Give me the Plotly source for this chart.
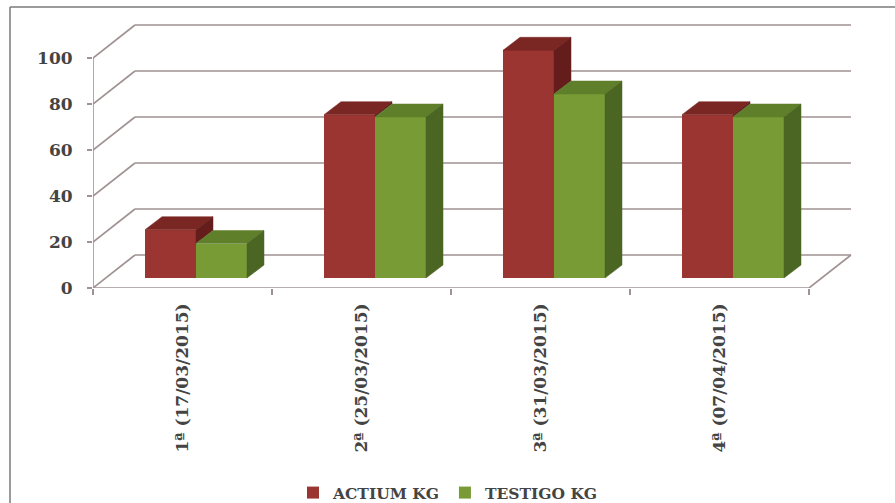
import plotly.graph_objects as go

# ---------------- data ----------------
categories = ["1ª (17/03/2015)", "2ª (25/03/2015)", "3ª (31/03/2015)", "4ª (07/04/2015)"]
actium_kg = [21, 71, 99, 71]
testigo_kg = [15, 70, 80, 70]
series_names = ["ACTIUM KG", "TESTIGO KG"]
y_ticks = [0, 20, 40, 60, 80, 100]

# ---------------- style / geometry ----------------
W, H = 895, 503
ML, MR, MT, MB = 93, 15, 10, 215
PLOT_W = W - ML - MR
PLOT_H = H - MT - MB
PX_Y = 2.3            # pixels per value unit
PX_X = 179.0          # pixels per category
Y_MAX = PLOT_H / PX_Y
X_MIN = -0.5
X_MAX = X_MIN + PLOT_W / PX_X

WALL_DX = 42 / PX_X   # depth of the 3D box (x units)
WALL_DY = 33 / PX_Y   # depth of the 3D box (y units)
BAR_SHIFT_X = 13.5 / PX_X
BAR_BASE = 10 / PX_Y
BAR_W = 51 / PX_X
BAR_DDX = 17 / PX_X
BAR_DDY = 13 / PX_Y

GRID_COLOR = "#a09292"
TEXT_COLOR = "#444444"
FONT = "DejaVu Serif"

colors = {
    "ACTIUM KG": dict(front="#9a3532", top="#7a2623", side="#651d1c"),
    "TESTIGO KG": dict(front="#789b36", top="#5f7f2a", side="#4b6622"),
}

fig = go.Figure()

n = len(categories)
values = [actium_kg, testigo_kg]
shifts = [BAR_SHIFT_X - BAR_W / 2, BAR_SHIFT_X + BAR_W / 2]

# front faces as bars
for s, name in enumerate(series_names):
    fig.add_trace(go.Bar(
        x=[i + shifts[s] for i in range(n)],
        y=values[s],
        base=[BAR_BASE] * n,
        width=BAR_W,
        name=name,
        marker=dict(color=colors[name]["front"], line=dict(width=0)),
        hoverinfo="skip",
    ))

# top and side faces
for s, name in enumerate(series_names):
    tx, ty, sx, sy = [], [], [], []
    for i in range(n):
        v = values[s][i]
        xl = i + shifts[s] - BAR_W / 2
        xr = xl + BAR_W
        b = BAR_BASE
        t = BAR_BASE + v
        tx += [xl, xl + BAR_DDX, xr + BAR_DDX, xr, xl, None]
        ty += [t, t + BAR_DDY, t + BAR_DDY, t, t, None]
        lo = b
        if s < len(series_names) - 1:
            lo = max(b, BAR_BASE + values[s + 1][i])
        if lo < t:
            sx += [xr, xr, xr + BAR_DDX, xr + BAR_DDX, xr, None]
            sy += [lo, t, t + BAR_DDY, lo + BAR_DDY, lo, None]
    fig.add_trace(go.Scatter(x=tx, y=ty, mode="lines", fill="toself",
                             fillcolor=colors[name]["top"],
                             line=dict(color=colors[name]["top"], width=0.5),
                             showlegend=False, hoverinfo="skip"))
    if sx:
        fig.add_trace(go.Scatter(x=sx, y=sy, mode="lines", fill="toself",
                                 fillcolor=colors[name]["side"],
                                 line=dict(color=colors[name]["side"], width=0.5),
                                 showlegend=False, hoverinfo="skip"))

# ---------------- walls / floor / grid ----------------
shapes = []
line_style = dict(color=GRID_COLOR, width=1.6)
for v in y_ticks:
    shapes.append(dict(type="line", xref="x", yref="y", layer="below",
                       x0=X_MIN + WALL_DX, x1=n - 0.5 + WALL_DX,
                       y0=v + WALL_DY, y1=v + WALL_DY, line=line_style))
    shapes.append(dict(type="line", xref="x", yref="y", layer="below",
                       x0=X_MIN, x1=X_MIN + WALL_DX,
                       y0=v, y1=v + WALL_DY, line=line_style))
shapes.append(dict(type="line", xref="x", yref="y", layer="below",
                   x0=X_MIN, x1=X_MIN, y0=0, y1=y_ticks[-1], line=line_style))
shapes.append(dict(type="line", xref="x", yref="y", layer="below",
                   x0=X_MIN, x1=n - 0.5, y0=0, y1=0, line=line_style))
shapes.append(dict(type="line", xref="x", yref="y", layer="below",
                   x0=n - 0.5, x1=n - 0.5 + WALL_DX, y0=0, y1=WALL_DY, line=line_style))

# outer border (top and left)
border = dict(color="#7a7a7a", width=1.5)
bx = (10 - ML) / PLOT_W
by = (H - MB - 7) / PLOT_H
shapes.append(dict(type="line", xref="paper", yref="paper",
                   x0=bx, x1=(W - ML) / PLOT_W, y0=by, y1=by, line=border))
shapes.append(dict(type="line", xref="paper", yref="paper",
                   x0=bx, x1=bx, y0=by, y1=-(MB) / PLOT_H, line=border))

fig.update_layout(
    template="none",
    width=W, height=H,
    margin=dict(l=ML, r=MR, t=MT, b=MB, autoexpand=False),
    paper_bgcolor="white", plot_bgcolor="white",
    barmode="overlay",
    bargap=0,
    shapes=shapes,
    hovermode=False,
    font=dict(family=FONT, color=TEXT_COLOR),
    legend=dict(orientation="h", x=(448 - ML) / PLOT_W, xanchor="center",
                y=-(493 - (H - MB)) / PLOT_H, yanchor="middle",
                font=dict(family=FONT, size=15.5, color=TEXT_COLOR, weight="bold"),
                bgcolor="rgba(0,0,0,0)", itemwidth=30, traceorder="normal"),
    xaxis=dict(range=[X_MIN, X_MAX], tickmode="array",
               tickvals=list(range(n)), ticktext=categories,
               tickangle=-90, ticks="", showgrid=False, zeroline=False,
               showline=False, ticklabelstandoff=11, automargin=False,
               tickfont=dict(family=FONT, size=17, color=TEXT_COLOR, weight="bold"),
               minor=dict(tickmode="array",
                          tickvals=[i - 0.5 for i in range(n + 1)],
                          ticks="outside", ticklen=6, tickwidth=1.5,
                          tickcolor=GRID_COLOR, showgrid=False),
               fixedrange=True),
    yaxis=dict(range=[0, Y_MAX], tickmode="array", tickvals=y_ticks,
               ticks="outside", ticklen=5, tickwidth=1.5, tickcolor=GRID_COLOR,
               showgrid=False, zeroline=False, showline=False,
               ticklabelstandoff=11, automargin=False,
               tickfont=dict(family=FONT, size=17, color=TEXT_COLOR, weight="bold"),
               fixedrange=True),
)

fig.write_html("out.html")
